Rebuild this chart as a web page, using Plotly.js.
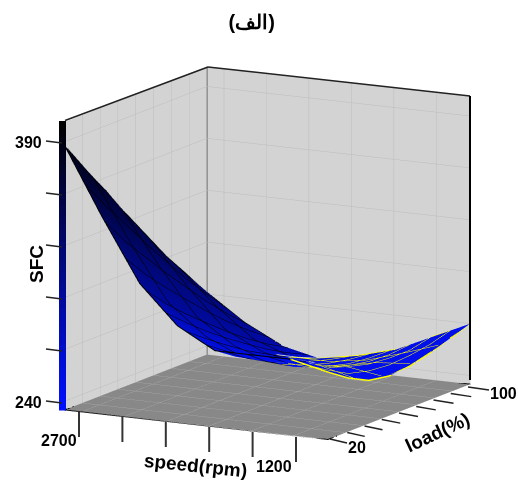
<!DOCTYPE html>
<html><head><meta charset="utf-8">
<script src="https://cdn.plot.ly/plotly-3.0.1.min.js"></script>
<style>html,body{margin:0;padding:0;background:#fff}#c{width:518px;height:480px}</style>
</head><body><div id="c"></div>
<script>
const speedValues=[2820,2554,2289,2023,1757,1491,1226,960];
const loadValues=[20,31.4,42.9,54.3,65.7,77.1,88.6,100];
const sfcRows=[
[388,349,313,291,279,279,279,274],
[370,333,300,282,271,270,272,266],
[353,319,289,273,265,263,265,260],
[335,305,279,265,258,258,261,258],
[318,292,269,258,253,254,258,259],
[301,279,260,251,249,251,257,262],
[286,267,252,245,246,250,257,266],
[271,256,245,240,244,250,260,270]];
const shadeFront=[0.92,0.65,0.42,0.2,0.1,0.08,0.08,0.08];
const shadeBack=[0.55,0.42,0.35,0.2,0.1,0.08,0.08,0.08];
const foldLeft=[6,6,5,5,4,4,3,3];
const foldRight=[6,5,5,4,4,3,3,3];
const zRange=[235,401.5];
const speedRange=[2820,960];
const loadRange=[20,100];
const speedTicks=[2700,2400,2100,1800,1500,1200];
const loadTicks=[20,30,40,50,60,70,80,90,100];
const sfcTicks=[240,270,300,330,360,390];
const blue=[0,16,255];
const scale=[[0,'rgb(0,16,255)'],[1,'#000000']];
const flat={ambient:1,diffuse:0,specular:0,roughness:1,fresnel:0};
const P=(x,y)=>({x:x/518,y:1-y/480});
const shades=loadValues.map((_,j)=>shadeFront.map((f,i)=>f+(shadeBack[i]-f)*j/7));
function surf(keep,color,w){
  return {type:'surface',x:speedValues,y:loadValues,
    z:sfcRows.map((r,j)=>r.map((v,i)=>keep(i,j)?v:null)),
    surfacecolor:shades,
    colorscale:scale,cmin:0,cmax:1,showscale:false,lighting:flat,
    contours:{
      x:{show:true,color:color,width:w,start:speedRange[1],end:speedRange[0],size:(speedRange[0]-speedRange[1])/13},
      y:{show:true,color:color,width:w,start:loadRange[0],end:loadRange[1],size:(loadRange[1]-loadRange[0])/5}
    },hoverinfo:'skip'};
}
function outline(pts,color,w){
  return {type:'scatter3d',mode:'lines',x:pts.map(p=>speedValues[p[0]]),y:pts.map(p=>loadValues[p[1]]),
    z:pts.map(p=>sfcRows[p[1]][p[0]]),line:{color:color,width:w},hoverinfo:'skip',showlegend:false};
}
const leftPts=[],rightPts=[];
for(let i=foldLeft[0];i>=0;i--)leftPts.push([i,0]);
for(let j=1;j<8;j++)leftPts.push([0,j]);
for(let i=1;i<=foldLeft[7];i++)leftPts.push([i,7]);
for(let i=foldRight[0];i<8;i++)rightPts.push([i,0]);
for(let j=1;j<8;j++)rightPts.push([7,j]);
for(let i=6;i>=foldRight[7];i--)rightPts.push([i,7]);
const [xa,xb]=speedRange,[ya,yb]=loadRange,[za,zb]=zRange;
const edges=[[xa,ya,za],[xb,ya,za],[xb,yb,za],[xa,yb,za],[xa,ya,za]];
const edgeTrace={type:'scatter3d',mode:'lines',
  x:edges.map(e=>e[0]),y:edges.map(e=>e[1]),z:edges.map(e=>e[2]),
  line:{color:'#000',width:2},hoverinfo:'skip',showlegend:false};
const backEdge={type:'scatter3d',mode:'lines',x:[xa,xa],y:[yb,yb],z:zRange,line:{color:'#555',width:2},hoverinfo:'skip',showlegend:false};
const ax={showbackground:true,gridcolor:'#bcbcbc',gridwidth:1,zeroline:false,showline:false,
  ticks:'',showticklabels:false,title:{text:''},showspikes:false};
const shapes=[];
const line=(x0,y0,x1,y1,c,w)=>{const a=P(x0,y0),b=P(x1,y1);
  shapes.push({type:'line',xref:'paper',yref:'paper',x0:a.x,y0:a.y,x1:b.x,y1:b.y,line:{color:c,width:w},layer:'above'});};
const barTop=121,barBot=410.5,bands=48;
for(let k=0;k<bands;k++){
  const t=k/(bands-1),a=P(59,barTop+(barBot-barTop)*k/bands),b=P(66,Math.min(barBot,barTop+(barBot-barTop)*(k+1)/bands+1.5));
  const c=blue.map(v=>Math.round(v*t));
  shapes.push({type:'rect',xref:'paper',yref:'paper',x0:a.x,x1:b.x,y0:a.y,y1:b.y,fillcolor:`rgb(${c})`,line:{width:0},layer:'above'});
}
speedTicks.forEach(v=>{const f=(2700-v)/1500;
  line(79+217*f,412+25*f,79+217*f,437+25*f,'#333',2);});
loadTicks.forEach(v=>{const f=(v-20)/80;
  line(330+138*f,439-52*f,347+142*f,443-53*f,'#222',1.5);});
sfcTicks.forEach(v=>{const f=(390-v)/150;
  line(46,141+260*f,62,143+260*f,'#222',1.5);});
line(65,120.5,208,67,'#222',1.5);
line(208,67,470,96,'#222',1.5);
line(470,96,470,380,'#000',2);
const T=(text,x,y,size,angle)=>{const p=P(x,y);return {text,x:p.x,y:p.y,xref:'paper',yref:'paper',showarrow:false,
  xanchor:'center',yanchor:'middle',textangle:angle||0,font:{family:'Liberation Sans',size:size,color:'#000',weight:'bold'}};};
const annotations=[
  T('390',28,142,16),T('240',28,402,16),T('SFC',36,264,19,-90),
  T('2700',59,440,16),T('1200',274,466,16),
  T('20',357,447,16),T('100',503,393,16),
  T('speed(rpm)',195,465,19,6),T('load(%)',437,432,19,-25)
];
const layout={
  width:518,height:480,margin:{l:0,r:0,t:0,b:0},paper_bgcolor:'#fff',showlegend:false,
  title:{text:'(الف)',x:0.486,y:0.954,xanchor:'center',yanchor:'middle',font:{family:'Liberation Sans',size:20,color:'#000',weight:'bold'}},
  shapes,annotations,
  scene:{
    domain:{x:[0,1],y:[0,1]},
    aspectmode:'manual',aspectratio:{x:1.246,y:1.254,z:1.227},
    camera:{projection:{type:'orthographic'},eye:{x:1.122,y:-2.162,z:0.576},center:{x:-0.0359,y:-0.0075,z:0.0533},up:{x:0,y:0,z:1}},
    xaxis:Object.assign({},ax,{range:speedRange,tickvals:speedTicks,backgroundcolor:'#d3d3d3'}),
    yaxis:Object.assign({},ax,{range:loadRange,tickvals:loadTicks,backgroundcolor:'#d3d3d3'}),
    zaxis:Object.assign({},ax,{range:zRange,tickvals:sfcTicks,backgroundcolor:'#888888'})
  }
};
const data=[
  surf((i,j)=>i<=foldLeft[j],'#000000',2),
  surf((i,j)=>i>=foldRight[j],'#ffff00',3),
  outline(leftPts,'#000000',2),outline(rightPts,'#ffff00',3),
  edgeTrace,backEdge];
Plotly.newPlot('c',data,layout,{displayModeBar:false});
</script></body></html>
